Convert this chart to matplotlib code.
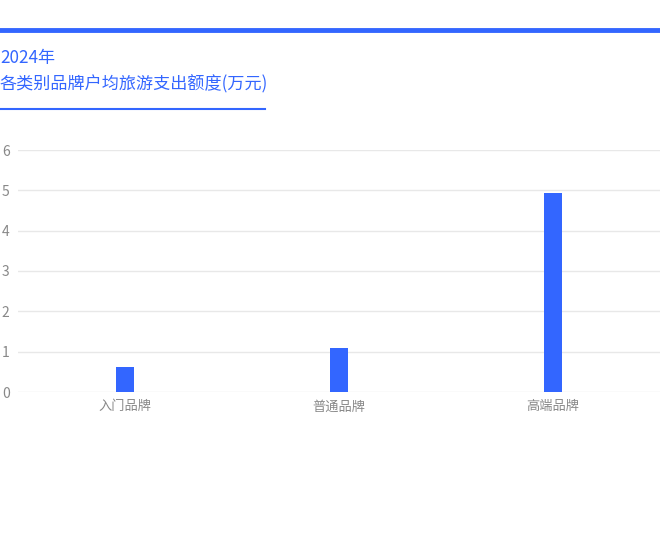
import matplotlib
matplotlib.use("Agg")
import matplotlib.pyplot as plt
import numpy as np

plt.rcParams['font.family'] = ['Noto Sans CJK SC', 'DejaVu Sans']

# data
categories = ["入门品牌", "普通品牌", "高端品牌"]
values = [0.62, 1.09, 4.93]
yticks = [0, 1, 2, 3, 4, 5, 6]

BLUE = "#3366ff"

fig = plt.figure(figsize=(6.6, 5.46), dpi=100)

# top band and title
fig.add_artist(plt.Line2D([0, 1], [1 - 30 / 546, 1 - 30 / 546], color=BLUE, lw=3.5))
fig.text(0.0, 1 - 58 / 546, "2024年", color=BLUE, fontsize=12.3, va="center", ha="left",
         fontweight="light")
fig.text(0.0, 1 - 84 / 546, "各类别品牌户均旅游支出额度(万元)", color=BLUE, fontsize=12.3,
         va="center", ha="left", fontweight="light")
fig.add_artist(plt.Line2D([0, 265 / 660], [1 - 109 / 546, 1 - 109 / 546], color=BLUE, lw=1.5))

ax = fig.add_axes([18 / 660, 1 - 392 / 546, 1 - 18 / 660, (392 - 150) / 546])
x = np.arange(len(categories))
ax.bar(x, values, width=0.08, color=BLUE, zorder=3)

ax.set_xlim(-0.5, len(categories) - 0.5)
ax.set_ylim(0, 6)
ax.set_yticks(yticks)
ax.set_xticks(x)
ax.set_xticklabels(categories)
ax.grid(axis="y", color="#e8e8e8", lw=1)
for s in ax.spines.values():
    s.set_visible(False)
ax.tick_params(length=0, colors="#888888")
ax.tick_params(axis="y", pad=6, labelsize=10)
ax.tick_params(axis="x", pad=6, labelsize=9.5)

fig.savefig("out.png", dpi=100)
